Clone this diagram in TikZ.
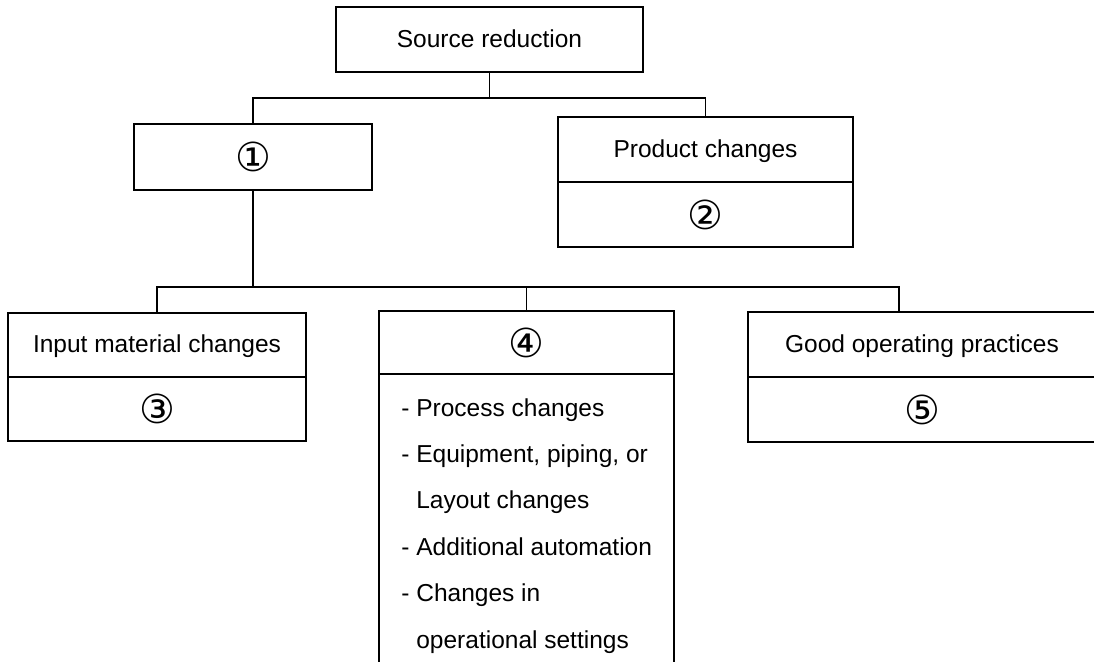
\documentclass[tikz,border=0pt]{standalone}
\usepackage{fontspec}
\setmainfont{Liberation Sans}
\newfontfamily\circfont{DejaVu Sans}
\usetikzlibrary{positioning}
\tikzset{
  box/.style={draw, line width=1.1pt, outer sep=0pt, inner sep=0pt,
    text height=0.9em, text depth=0.12em, font=\fontsize{12.25}{14}\selectfont},
  numbox/.style={draw, line width=1.1pt, outer sep=0pt, inner sep=0pt,
    font=\circfont\fontsize{20}{20}\selectfont},
  link/.style={line width=0.85pt},
}
\begin{document}
\begin{tikzpicture}[x=0.5pt,y=-0.5pt]
  \useasboundingbox (0,0) rectangle (1094,661);
  % top level
  \node[box, minimum width=153.5pt, minimum height=32.5pt] (src) at (489.5,39.5) {Source reduction};
  \node[numbox, minimum width=119pt, minimum height=33pt] (one) at (253,157) {①};
  \node[box, minimum width=147.5pt, minimum height=32.5pt] (prodhead) at (705.5,149.5) {Product changes};
  \node[numbox, minimum width=147.5pt, minimum height=32.5pt, below=0pt of prodhead] (prodbody) {②};
  % lower level
  \node[box, minimum width=149pt, minimum height=32pt] (inphead) at (157,345) {Input material changes};
  \node[numbox, minimum width=149pt, minimum height=32pt, below=0pt of inphead] (inpbody) {③};
  \node[numbox, minimum width=147.5pt, minimum height=31.5pt] (fourhead) at (526.5,342.5) {④};
  \node[box, minimum width=147.5pt, minimum height=153pt, below=0pt of fourhead] (fourbody) {};
  \node[box, minimum width=174pt, minimum height=32.5pt] (goodhead) at (922,344.5) {Good operating practices};
  \node[numbox, minimum width=174pt, minimum height=32.5pt, below=0pt of goodhead] (goodbody) {⑤};
  \node[anchor=north west, align=left, inner sep=0pt,
    font=\fontsize{12.25}{23.2}\selectfont] (fourlist) at (401,398)
    {- Process changes\\- Equipment, piping, or\\\phantom{- }Layout changes\\- Additional automation\\- Changes in\\\phantom{- }operational settings};
  % connectors
  \coordinate (fork1) at (489.5,98);
  \coordinate (fork2) at (253,287);
  \coordinate (tick5) at (899,287);
  \draw[link] (src) -- (fork1);
  \draw[link] (one.north) |- (fork1) -| (prodhead.north);
  \draw[link] (one) -- (fork2);
  \draw[link] (inphead.north) |- (tick5) -- (tick5 |- goodhead.north);
  \draw[link] (fourhead.north) -- (fourhead.north |- fork2);
\end{tikzpicture}
\end{document}
